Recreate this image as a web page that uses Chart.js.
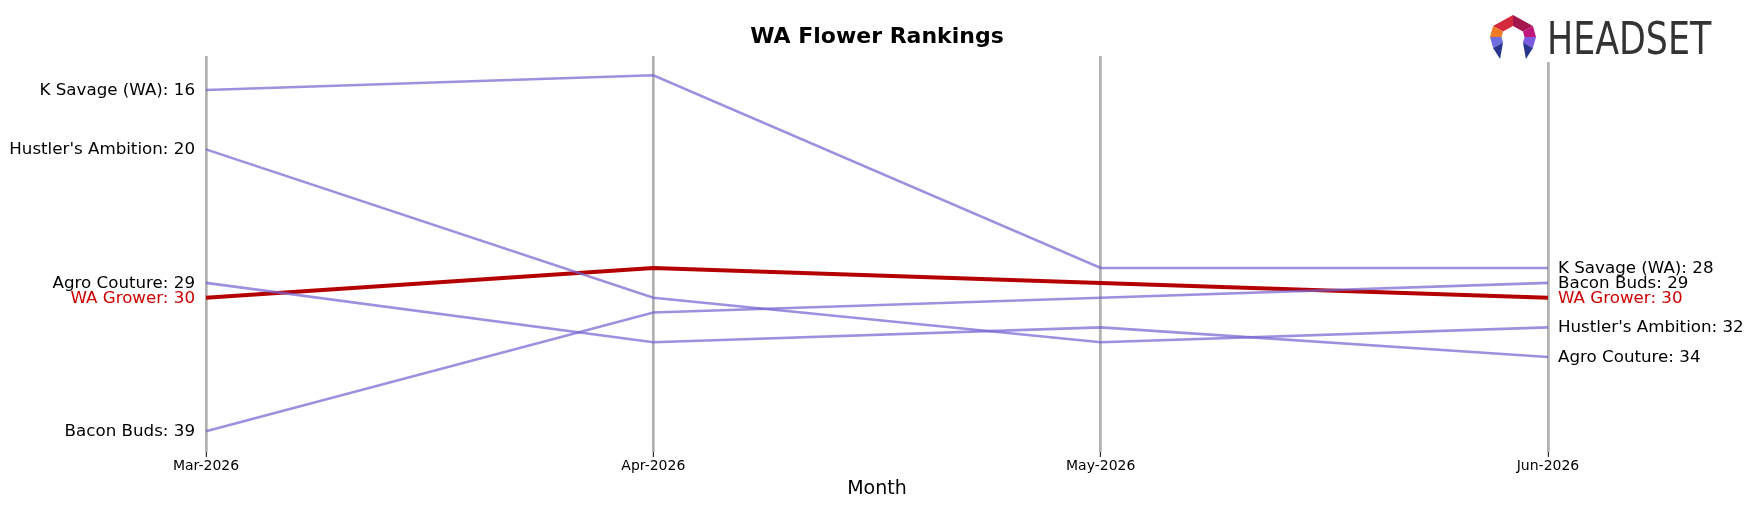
<!DOCTYPE html>
<html>
<head>
<meta charset="utf-8">
<script src="https://cdn.jsdelivr.net/npm/chart.js@4.4.0/dist/chart.umd.min.js"></script>
<style>
  html, body { margin: 0; padding: 0; background: #fff; }
  #wrap { width: 1754px; height: 507px; }
</style>
</head>
<body>
<div id="wrap"><canvas id="rankChart" width="1754" height="507"></canvas></div>
<script>
// chart data
const months = ['Mar-2026', 'Apr-2026', 'May-2026', 'Jun-2026'];
const brands = ["K Savage (WA)", "Hustler's Ambition", "Agro Couture", "Bacon Buds", "WA Grower"];
const kSavageRanks = [16, 15, 28, 28];
const hustlersRanks = [20, 30, 33, 32];
const agroRanks = [29, 33, 32, 34];
const baconRanks = [39, 31, 30, 29];
const waGrowerRanks = [30, 28, 29, 30];
const highlightBrand = 'WA Grower';

const PURPLE = 'rgba(120, 100, 210, 0.72)';
const RED = '#b40000';
const FONT = "'DejaVu Sans', sans-serif";

const rankSeries = [kSavageRanks, hustlersRanks, agroRanks, baconRanks, waGrowerRanks];

const datasets = brands.map((name, i) => {
    const isMain = name === highlightBrand;
    return {
        label: name,
        data: rankSeries[i],
        borderColor: isMain ? RED : PURPLE,
        borderWidth: isMain ? 4 : 2.6,
        pointRadius: 0,
        tension: 0,
        fill: false,
        order: isMain ? 1 : 0
    };
});

// brand labels at both ends of each line
const endLabels = {
    id: 'endLabels',
    afterDatasetsDraw(chart) {
        const ctx = chart.ctx;
        const xs = chart.scales.x;
        const ys = chart.scales.y;
        const last = months.length - 1;
        ctx.save();
        ctx.font = '16.7px ' + FONT;
        ctx.textBaseline = 'middle';
        chart.data.datasets.forEach(ds => {
            ctx.fillStyle = ds.label === highlightBrand ? '#cc0000' : '#000';
            const first = ds.data[0];
            const end = ds.data[last];
            ctx.textAlign = 'right';
            ctx.fillText(ds.label + ': ' + first, xs.getPixelForValue(0) - 11, ys.getPixelForValue(first) + 0.5);
            ctx.textAlign = 'left';
            ctx.fillText(ds.label + ': ' + end, xs.getPixelForValue(last) + 10, ys.getPixelForValue(end) + 0.5);
        });
        ctx.restore();
    }
};

// headset logo, top right
const logo = {
    id: 'logo',
    afterDraw(chart) {
        const ctx = chart.ctx;
        ctx.save();
        ctx.fillStyle = '#fff';
        ctx.fillRect(1486, 12, 232, 50);

        const cx = 1513, cy = 37, rx = 23, ry = 22, inner = 0.5;
        const pt = (k, deg) => [cx + k * rx * Math.cos(deg * Math.PI / 180), cy + k * ry * Math.sin(deg * Math.PI / 180)];
        const quad = (a1, a2, color) => {
            const p1 = pt(1, a1), p2 = pt(1, a2), p3 = pt(inner, a2), p4 = pt(inner, a1);
            ctx.fillStyle = color;
            ctx.beginPath();
            ctx.moveTo(p1[0], p1[1]);
            ctx.lineTo(p2[0], p2[1]);
            ctx.lineTo(p3[0], p3[1]);
            ctx.lineTo(p4[0], p4[1]);
            ctx.closePath();
            ctx.fill();
        };
        quad(-150, -90, '#d42a3c');
        quad(-90, -30, '#a3164e');
        quad(-30, 0, '#c2177a');
        quad(0, 30, '#7a5ae0');
        quad(210, 180, '#f07a28');
        quad(180, 150, '#6f6ee0');
        // legs
        ctx.fillStyle = '#27358c';
        [[150, 1], [30, -1]].forEach(([a, s]) => {
            const po = pt(1, a), pi = pt(inner, a);
            ctx.beginPath();
            ctx.moveTo(po[0], po[1]);
            ctx.lineTo(pi[0], pi[1]);
            ctx.lineTo((po[0] + pi[0]) / 2 + s * 2, cy + 22);
            ctx.closePath();
            ctx.fill();
        });

        ctx.fillStyle = '#333';
        ctx.font = "44px 'DejaVu Sans Condensed', 'DejaVu Sans', sans-serif";
        ctx.textBaseline = 'alphabetic';
        ctx.textAlign = 'left';
        ctx.translate(1547, 54);
        ctx.scale(0.88, 1);
        ctx.fillText('HEADSET', 0, 0);
        ctx.restore();
    }
};

new Chart(document.getElementById('rankChart'), {
    type: 'line',
    data: { labels: months, datasets: datasets },
    options: {
        responsive: false,
        devicePixelRatio: 1,
        animation: false,
        layout: { padding: { left: 206, right: 206, top: 0, bottom: 0 } },
        plugins: {
            legend: { display: false },
            tooltip: { enabled: false },
            title: {
                display: true,
                text: 'WA Flower Rankings',
                color: '#000',
                font: { family: FONT, size: 22, weight: 'bold' },
                padding: { top: 24, bottom: 5.5 }
            }
        },
        scales: {
            x: {
                type: 'category',
                offset: false,
                border: { display: false },
                grid: {
                    color: '#b0b0b0',
                    lineWidth: 2.7,
                    tickColor: '#000',
                    tickLength: 5,
                    tickWidth: 1
                },
                ticks: {
                    color: '#000',
                    font: { family: FONT, size: 14 },
                    padding: 1,
                    maxRotation: 0,
                    autoSkip: false
                },
                title: {
                    display: true,
                    text: 'Month',
                    color: '#000',
                    font: { family: FONT, size: 19 },
                    padding: { top: 0, bottom: 7 }
                },
                afterFit(scale) { scale.height = 55; }
            },
            y: {
                display: false,
                reverse: true,
                min: 13.7,
                max: 40.4
            }
        }
    },
    plugins: [endLabels, logo]
});
</script>
</body>
</html>
